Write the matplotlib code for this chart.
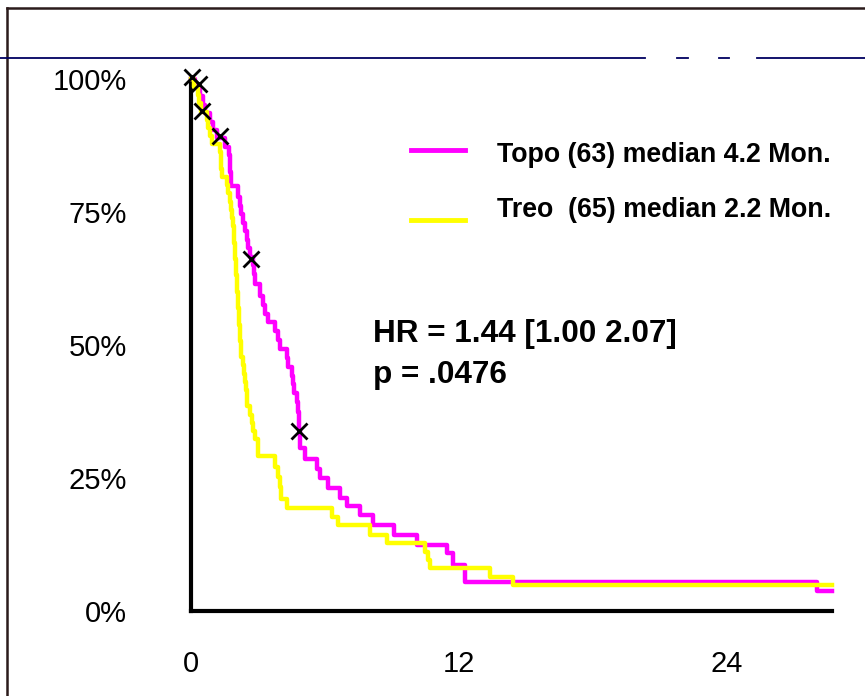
import matplotlib.pyplot as plt
from matplotlib.lines import Line2D

plt.rcParams['font.family'] = ['Liberation Sans', 'DejaVu Sans']

# Kaplan-Meier curves: month of each drop and survival (%) after it
topo_t = [0, 0.2, 0.4, 0.55, 0.63, 0.85, 1.0, 1.15, 1.52, 1.7, 1.75, 1.76, 1.77,
          1.78, 2.12, 2.19, 2.25, 2.34, 2.42, 2.49, 2.57, 2.65, 2.79, 2.82, 2.87,
          3.09, 3.22, 3.31, 3.45, 3.76, 3.9, 4.0, 4.29, 4.33, 4.51, 4.55, 4.6,
          4.73, 4.78, 4.82, 4.84, 4.86, 4.9, 5.11, 5.63, 5.78, 6.14, 6.68, 6.97,
          7.57, 8.15, 9.1, 10.1, 11.45, 11.74, 12.27, 28.02]
topo_s = [100, 98.4, 96.8, 95.2, 93.6, 92.0, 90.5, 88.9, 87.3, 85.7, 84.1, 82.5, 80.9,
          79.8, 77.8, 76.2, 74.6, 73.0, 71.4, 69.8, 68.2, 66.6, 65.0, 63.4, 61.4,
          59.3, 57.6, 55.9, 54.3, 52.6, 50.9, 49.2, 47.5, 45.9, 44.2, 42.6, 40.9,
          39.2, 37.5, 35.8, 34.1, 32.4, 30.6, 28.6, 26.6, 25.0, 23.1, 21.2, 19.7,
          18.0, 16.2, 14.3, 12.4, 10.9, 8.6, 5.5, 3.8]

treo_t = [0, 0.15, 0.31, 0.38, 0.45, 0.7, 0.77, 0.85, 0.93, 1.3, 1.33, 1.36, 1.38,
          1.6, 1.65, 1.75, 1.8, 1.85, 1.89, 1.91, 1.93, 1.97, 1.99, 2.01, 2.03,
          2.05, 2.08, 2.1, 2.12, 2.14, 2.16, 2.18, 2.2, 2.22, 2.25, 2.34, 2.38,
          2.42, 2.46, 2.49, 2.52, 2.64, 2.72, 2.79, 2.87, 3.01, 3.76, 3.9, 3.99,
          4.02, 4.29, 6.3, 6.6, 8.02, 8.76, 10.48, 10.6, 10.7, 13.39, 14.42]
treo_s = [100, 98.5, 96.9, 95.4, 93.8, 92.3, 90.8, 89.2, 87.7, 86.2, 84.6, 83.1, 81.6,
          80.0, 78.5, 76.9, 75.4, 73.8, 72.3, 70.8, 69.2, 67.7, 66.2, 64.6, 63.1,
          61.5, 60.0, 58.5, 56.9, 55.4, 53.8, 52.3, 50.8, 49.2, 47.7, 46.2, 44.6,
          43.1, 41.5, 40.0, 38.5, 36.9, 35.4, 33.8, 32.3, 29.1, 27.1, 25.2, 23.3,
          21.0, 19.4, 17.7, 16.2, 14.3, 12.8, 11.0, 9.5, 8.1, 6.3, 4.9]

t_end = 28.7

# censored observations
censor_t = [0.03, 0.36, 0.48, 1.30, 2.67, 4.84]
censor_s = [100.3, 99.0, 94.0, 89.2, 66.1, 33.8]

xticks = [0, 12, 24]
yticks = [0, 25, 50, 75, 100]
ytick_labels = ['0%', '25%', '50%', '75%', '100%']

legend_labels = ['Topo (63) median 4.2 Mon.', 'Treo  (65) median 2.2 Mon.']
stats_lines = ['HR = 1.44 [1.00 2.07]', 'p = .0476']

topo_color = '#ff00ff'
treo_color = '#ffff00'

W, H = 865, 696
fig = plt.figure(figsize=(W / 100, H / 100), dpi=100)
fig.patch.set_facecolor('white')

ax = fig.add_axes([191 / W, 1 - 611 / H, (832 - 191) / W, (611 - 79) / H])

ax.step(topo_t + [t_end], topo_s + [topo_s[-1]], where='post',
        color=topo_color, lw=3.2, clip_on=False, zorder=3)
ax.step(treo_t + [t_end], treo_s + [treo_s[-1]], where='post',
        color=treo_color, lw=3.2, clip_on=False, zorder=4)
ax.plot(censor_t, censor_s, 'x', color='black', ms=11, mew=2,
        clip_on=False, zorder=5)

ax.set_xlim(0, t_end)
ax.set_ylim(0, 100)
ax.set_xticks(xticks)
ax.set_yticks(yticks)
ax.set_yticklabels(ytick_labels)
ax.tick_params(length=0, labelsize=21)
ax.tick_params(axis='y', pad=46)
ax.tick_params(axis='x', pad=28)

for side in ['top', 'right']:
    ax.spines[side].set_visible(False)
for side in ['left', 'bottom']:
    ax.spines[side].set_linewidth(3)
    ax.spines[side].set_color('black')

# legend drawn by hand
for y_line, y_text, color, label in zip([150, 220], [161.7, 216.7],
                                        [topo_color, treo_color], legend_labels):
    fig.add_artist(Line2D([411 / W, 465 / W], [1 - y_line / H] * 2,
                          color=color, lw=3.5))
    fig.text(497 / W, 1 - y_text / H, label, fontsize=19.3,
             fontweight='bold', va='baseline')

for y_text, line in zip([341.7, 383.3], stats_lines):
    fig.text(373 / W, 1 - y_text / H, line, fontsize=22.7,
             fontweight='bold', va='baseline')

# slide frame and header rule
fig.add_artist(Line2D([7 / W, 7 / W], [0, 1 - 8 / H], color='#2b1b1b', lw=1.8))
fig.add_artist(Line2D([7 / W, 1], [1 - 8 / H] * 2, color='#2b1b1b', lw=1.8))
for x0, x1 in [(0, 645), (677, 688), (719, 729), (757, 865)]:
    fig.add_artist(Line2D([x0 / W, x1 / W], [1 - 58 / H] * 2,
                          color='#000060', lw=1.3))

fig.savefig('out.png', dpi=100)
